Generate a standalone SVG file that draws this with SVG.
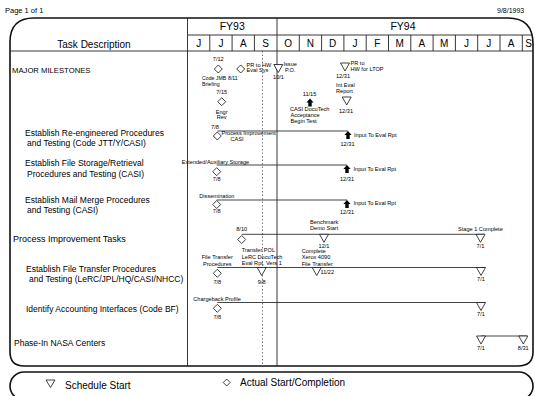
<svg xmlns="http://www.w3.org/2000/svg" xmlns:xlink="http://www.w3.org/1999/xlink" width="535" height="396" viewBox="0 0 535 396">
<style>
text{font-family:"Liberation Sans",Arial,sans-serif;fill:#000}
.frame{fill:none;stroke:#111;stroke-width:1.6}
.grid{fill:none;stroke:#222;stroke-width:0.9}
.bar{fill:none;stroke:#222;stroke-width:0.85}
.dot{fill:none;stroke:#555;stroke-width:0.8;stroke-dasharray:1.5 2}
.mk{fill:#fff;stroke:#111;stroke-width:0.8}
.arr{fill:#000}
.m{font-size:10px;text-anchor:middle}
.t{font-size:8.5px}
.s{font-size:5.6px}
.c{font-size:5.6px;text-anchor:middle}
.lg{font-size:10px}
</style>
<defs>
<path id="dia" d="M0,-4 L4,0 L0,4 L-4,0 Z"/>
<path id="tri" d="M-4.5,0 L4.5,0 L0,8 Z"/>
<path id="arw" d="M0,0 L3.6,4 L1.7,4 L1.7,8 L-1.7,8 L-1.7,4 L-3.6,4 Z"/>
</defs>
<rect width="535" height="396" fill="#fff"/>
<text class="s" x="5" y="13" style="font-size:7.5px">Page 1 of 1</text>
<text class="s" x="497" y="13" style="font-size:7px">9/8/1993</text>

<g id="frame">
<path class="frame" d="M10,42 Q10,18 34,18 L508,18 Q533,18 533,44 L533,352 Q533,366 518,366 L24,366 Q10,366 10,352 Z"/>
<line class="grid" x1="10" y1="51" x2="533" y2="51"/>
<line class="grid" x1="187.5" y1="35" x2="533" y2="35"/>
<line class="grid" x1="187.5" y1="18" x2="187.5" y2="366"/>
<line class="grid" x1="277" y1="18" x2="277" y2="366"/>
<path class="grid" d="M209.8,35V51M232.1,35V51M254.4,35V51M299.3,35V51M321.6,35V51M343.9,35V51M366.2,35V51M388.5,35V51M410.8,35V51M433.1,35V51M455.4,35V51M477.7,35V51M500,35V51M522.3,35V51"/>
<line class="dot" x1="262.5" y1="51" x2="262.5" y2="366"/>
</g>

<g id="header">
<text class="m" x="94" y="47.5">Task Description</text>
<text class="m" x="232.2" y="30" style="font-size:10.5px">FY93</text>
<text class="m" x="403" y="30" style="font-size:10.5px">FY94</text>
<text class="m" x="198.7" y="47">J</text>
<text class="m" x="221" y="47">J</text>
<text class="m" x="243.3" y="47">A</text>
<text class="m" x="265.6" y="47">S</text>
<text class="m" x="288.1" y="47">O</text>
<text class="m" x="310.4" y="47">N</text>
<text class="m" x="332.7" y="47">D</text>
<text class="m" x="355" y="47">J</text>
<text class="m" x="377.3" y="47">F</text>
<text class="m" x="399.6" y="47">M</text>
<text class="m" x="421.9" y="47">A</text>
<text class="m" x="444.2" y="47">M</text>
<text class="m" x="466.5" y="47">J</text>
<text class="m" x="488.8" y="47">J</text>
<text class="m" x="511.1" y="47">A</text>
<text class="m" x="528.5" y="47">S</text>
</g>

<g id="tasks">
<text class="t" x="12" y="72.5" style="font-size:7.7px">MAJOR MILESTONES</text>
<text class="t" x="25" y="135.5">Establish Re-engineered Procedures</text>
<text class="t" x="27" y="146.3">and Testing (Code JTT/Y/CASI)</text>
<text class="t" x="25" y="166.3">Establish File Storage/Retrieval</text>
<text class="t" x="27" y="177.3">Procedures and Testing (CASI)</text>
<text class="t" x="25" y="203">Establish Mail Merge Procedures</text>
<text class="t" x="27" y="213">and Testing (CASI)</text>
<text class="t" x="13" y="242" style="font-size:9px">Process Improvement Tasks</text>
<text class="t" x="26" y="272.3">Establish File Transfer Procedures</text>
<text class="t" x="29" y="282.3">and Testing (LeRC/JPL/HQ/CASI/NHCC)</text>
<text class="t" x="26" y="312.3">Identify  Accounting Interfaces (Code BF)</text>
<text class="t" x="14" y="346.3">Phase-In NASA Centers</text>
</g>

<g id="connectors">
<line class="bar" x1="217.3" y1="131" x2="348" y2="131"/>
<line class="bar" x1="216.7" y1="165" x2="347" y2="165"/>
<line class="bar" x1="216.7" y1="200" x2="347" y2="200"/>
<line class="bar" x1="241.7" y1="234.3" x2="484" y2="234.3"/>
<line class="bar" x1="217.3" y1="267.5" x2="485" y2="267.5"/>
<line class="bar" x1="217.3" y1="302.5" x2="485" y2="302.5"/>
<line class="bar" x1="481" y1="336" x2="527" y2="336"/>
</g>

<g id="milestones">
<text class="c" x="218.3" y="61">7/12</text>
<use href="#dia" class="mk" x="218.3" y="69"/>
<text class="s" x="202" y="80.3" style="font-size:5.2px">Code JMB</text>
<text class="s" x="228" y="80.3" style="font-size:5.2px">8/11</text>
<text class="s" x="202" y="85.6" style="font-size:5.2px">Briefing</text>
<use href="#dia" class="mk" x="240.7" y="69"/>
<text class="s" x="246.5" y="67">PR to HW</text>
<text class="s" x="246.5" y="72.3">Eval Sys</text>
<use href="#tri" class="mk" x="278.3" y="64.5"/>
<text class="s" x="283.5" y="66.3">Issue</text>
<text class="s" x="285" y="72">P.O.</text>
<text class="c" x="278.5" y="79">10/1</text>
<use href="#tri" class="mk" x="345" y="63"/>
<text class="s" x="350.5" y="65">PR to</text>
<text class="s" x="350.5" y="71">HW for LTOP</text>
<text class="c" x="343" y="77.7">12/31</text>
<text class="s" x="336" y="87">Int Eval</text>
<text class="s" x="336" y="92.5">Report</text>
<use href="#tri" class="mk" x="346.7" y="97"/>
<text class="c" x="346" y="112.7">12/31</text>
<text class="c" x="221.7" y="93.7">7/15</text>
<use href="#dia" class="mk" x="221.7" y="101.7"/>
<text class="c" x="221.7" y="113.5">Engr</text>
<text class="c" x="221.7" y="118.7">Rev</text>
<text class="c" x="309.5" y="96">11/15</text>
<use href="#arw" class="arr" x="310" y="98.5"/>
<text class="s" x="290" y="111.2">CASI DocuTech</text>
<text class="s" x="290.5" y="117.2">Acceptance</text>
<text class="s" x="290.5" y="123.2">Begin Test</text>
</g>

<g id="reengineered">
<text class="c" x="215" y="128.7">7/8</text>
<use href="#dia" class="mk" x="217.3" y="136"/>
<text class="s" x="221.5" y="134.5">Process Improvement</text>
<text class="s" x="230.5" y="141.2">CASI</text>
<use href="#arw" class="arr" x="348" y="131"/>
<text class="s" x="354" y="137">Input To Eval Rpt</text>
<text class="c" x="347.5" y="146">12/31</text>
</g>

<g id="storage">
<text class="s" x="181.7" y="163.5">Extended/Auxiliary Storage</text>
<use href="#dia" class="mk" x="216.7" y="171.7"/>
<text class="c" x="216.7" y="180.5">7/8</text>
<use href="#arw" class="arr" x="347" y="165"/>
<text class="s" x="353.5" y="171">Input To Eval Rpt</text>
<text class="c" x="347" y="181">12/31</text>
</g>

<g id="mailmerge">
<text class="s" x="199.3" y="198">Dissemination</text>
<use href="#dia" class="mk" x="216.7" y="204.5"/>
<text class="c" x="216.7" y="213.3">7/8</text>
<use href="#arw" class="arr" x="347" y="200"/>
<text class="s" x="353.5" y="205">Input To Eval Rpt</text>
<text class="c" x="347" y="214">12/31</text>
</g>

<g id="process">
<text class="s" x="310" y="223.7">Benchmark</text>
<text class="s" x="310" y="230">Demo Start</text>
<text class="c" x="241.7" y="231">8/10</text>
<use href="#dia" class="mk" x="241.7" y="239.5"/>
<use href="#tri" class="mk" x="324" y="234.3"/>
<text class="c" x="324" y="248">12/1</text>
<text class="s" x="458" y="231">Stage 1 Complete</text>
<use href="#tri" class="mk" x="480.5" y="234.3"/>
<text class="c" x="480.5" y="247.5">7/1</text>
</g>

<g id="filetransfer">
<text class="s" x="201.7" y="259.3">File Transfer</text>
<text class="s" x="203" y="266">Procedures</text>
<use href="#dia" class="mk" x="217.3" y="273.3"/>
<text class="c" x="217.3" y="284.3">7/8</text>
<text class="s" x="241.7" y="252">Transfer POL</text>
<text class="s" x="241.7" y="258.7">LeRC DocuTech</text>
<text class="s" x="241.7" y="265.4">Eval Rpt, Vers 1</text>
<use href="#tri" class="mk" x="261.7" y="267.5"/>
<text class="c" x="261.7" y="284.3">9/8</text>
<text class="s" x="301.7" y="252.5">Complete</text>
<text class="s" x="301.7" y="259">Xerox 4090</text>
<text class="s" x="301.7" y="265.5">File Transfer</text>
<use href="#tri" class="mk" x="316.7" y="267.5"/>
<text class="s" x="320.5" y="274">11/22</text>
<use href="#tri" class="mk" x="481" y="267.5"/>
<text class="c" x="481" y="281">7/1</text>
</g>

<g id="accounting">
<text class="s" x="193.3" y="301">Chargeback Profile</text>
<use href="#dia" class="mk" x="217.3" y="308.3"/>
<text class="c" x="217.3" y="318.7">7/8</text>
<use href="#tri" class="mk" x="481" y="302.5"/>
<text class="c" x="481" y="316">7/1</text>
</g>

<g id="phasein">
<use href="#tri" class="mk" x="481" y="336"/>
<use href="#tri" class="mk" x="523.3" y="336"/>
<text class="c" x="481" y="350">7/1</text>
<text class="c" x="523.3" y="350">8/31</text>
</g>

<g id="legend">
<rect class="frame" x="10" y="372" width="523" height="28" rx="14" ry="14"/>
<path class="mk" d="M46,380 L55,380 L50.5,387.5 Z"/>
<text class="lg" x="65" y="388.5">Schedule Start</text>
<path class="mk" d="M226.7,379 L230.2,382.5 L226.7,386 L223.2,382.5 Z"/>
<text class="lg" x="240" y="386">Actual Start/Completion</text>
</g>
</svg>
